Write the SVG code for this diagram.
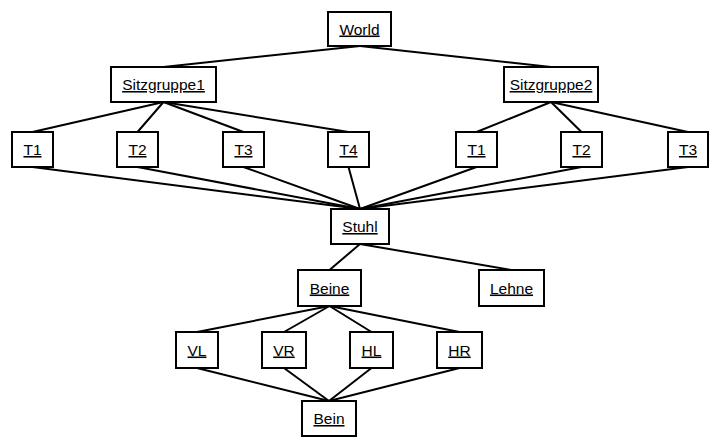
<svg xmlns="http://www.w3.org/2000/svg" width="720" height="447" viewBox="0 0 720 447">
<style>
rect{fill:#fff;stroke:#000;stroke-width:2}
line{stroke:#000;stroke-width:2}
text{font-family:"Liberation Sans",Arial,sans-serif;font-size:15.5px;text-anchor:middle;text-decoration:underline;fill:#000}
</style>
<rect x="0" y="0" width="720" height="447" style="stroke:none"/>
<g id="connectors">
<line x1="360" y1="46" x2="163.5" y2="67"/>
<line x1="360" y1="46" x2="551" y2="67"/>
<line x1="163.5" y1="102" x2="32.5" y2="132"/>
<line x1="163.5" y1="102" x2="137.5" y2="132"/>
<line x1="163.5" y1="102" x2="243.5" y2="132"/>
<line x1="163.5" y1="102" x2="348.5" y2="132"/>
<line x1="551" y1="102" x2="476.5" y2="132"/>
<line x1="551" y1="102" x2="581.5" y2="132"/>
<line x1="551" y1="102" x2="688" y2="132"/>
<line x1="32.5" y1="167" x2="360" y2="209"/>
<line x1="137.5" y1="167" x2="360" y2="209"/>
<line x1="243.5" y1="167" x2="360" y2="209"/>
<line x1="348.5" y1="167" x2="360" y2="209"/>
<line x1="476.5" y1="167" x2="360" y2="209"/>
<line x1="581.5" y1="167" x2="360" y2="209"/>
<line x1="688" y1="167" x2="360" y2="209"/>
<line x1="360" y1="244" x2="329.5" y2="270"/>
<line x1="360" y1="244" x2="511.5" y2="270"/>
<line x1="329.5" y1="306" x2="197" y2="332"/>
<line x1="329.5" y1="306" x2="284" y2="332"/>
<line x1="329.5" y1="306" x2="371.5" y2="332"/>
<line x1="329.5" y1="306" x2="459.5" y2="332"/>
<line x1="197" y1="368" x2="329" y2="401"/>
<line x1="284" y1="368" x2="329" y2="401"/>
<line x1="371.5" y1="368" x2="329" y2="401"/>
<line x1="459.5" y1="368" x2="329" y2="401"/>
</g>
<g id="world"><rect x="328" y="12" width="63" height="34"/><text x="359.5" y="34.5">World</text></g>
<g id="sitzgruppe1"><rect x="111" y="67" width="105" height="35"/><text x="163.5" y="90">Sitzgruppe1</text></g>
<g id="sitzgruppe2"><rect x="504" y="67" width="94" height="35"/><text x="551" y="90">Sitzgruppe2</text></g>
<g id="s1t1"><rect x="12" y="132" width="41" height="35"/><text x="32.5" y="155">T1</text></g>
<g id="s1t2"><rect x="117" y="132" width="41" height="35"/><text x="137.5" y="155">T2</text></g>
<g id="s1t3"><rect x="223" y="132" width="41" height="35"/><text x="243.5" y="155">T3</text></g>
<g id="s1t4"><rect x="328" y="132" width="41" height="35"/><text x="348.5" y="155">T4</text></g>
<g id="s2t1"><rect x="456" y="132" width="41" height="35"/><text x="476.5" y="155">T1</text></g>
<g id="s2t2"><rect x="561" y="132" width="41" height="35"/><text x="581.5" y="155">T2</text></g>
<g id="s2t3"><rect x="668" y="132" width="40" height="35"/><text x="688" y="155">T3</text></g>
<g id="stuhl"><rect x="331" y="209" width="58" height="35"/><text x="360" y="232">Stuhl</text></g>
<g id="beine"><rect x="298" y="270" width="63" height="36"/><text x="329.5" y="293.5">Beine</text></g>
<g id="lehne"><rect x="479" y="270" width="65" height="36"/><text x="511.5" y="293.5">Lehne</text></g>
<g id="vl"><rect x="176" y="332" width="42" height="36"/><text x="197" y="355.5">VL</text></g>
<g id="vr"><rect x="262" y="332" width="44" height="36"/><text x="284" y="355.5">VR</text></g>
<g id="hl"><rect x="350" y="332" width="43" height="36"/><text x="371.5" y="355.5">HL</text></g>
<g id="hr"><rect x="437" y="332" width="45" height="36"/><text x="459.5" y="355.5">HR</text></g>
<g id="bein"><rect x="302" y="401" width="54" height="35"/><text x="329" y="424">Bein</text></g>
</svg>
